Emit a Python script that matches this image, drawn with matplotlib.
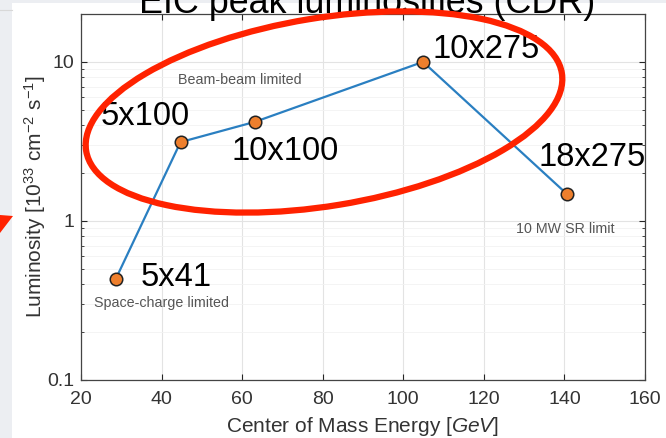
import matplotlib
matplotlib.use('Agg')
import matplotlib.pyplot as plt
from matplotlib.patches import Ellipse, Polygon, Rectangle
from matplotlib.ticker import FixedLocator, FuncFormatter, LogLocator, NullFormatter

plt.rcParams['font.family'] = ['Liberation Sans', 'DejaVu Sans']
plt.rcParams['mathtext.fontset'] = 'custom'
plt.rcParams['mathtext.rm'] = 'Liberation Sans'
plt.rcParams['mathtext.it'] = 'Liberation Sans:italic'

# beam configurations (e x p energies), CM energy and peak luminosity
configs = ['5x41', '5x100', '10x100', '10x275', '18x275']
cm_energy = [28.6, 44.7, 63.2, 104.9, 140.7]
luminosity = [0.43, 3.13, 4.2, 10.0, 1.47]

# label offsets in pixels (dx, dy) relative to each point
label_offsets = [(25, 2), (-80, 26), (-24, -30), (9, 12), (-29, 37)]

region_labels = ['Beam-beam limited', '10 MW SR limit', 'Space-charge limited']
region_pos = [(59.5, 7.7), (140.1, 0.89), (39.9, 0.307)]

W, H = 666, 438
fig = plt.figure(figsize=(W / 100, H / 100), dpi=100)
fig.patch.set_facecolor('#eceef2')

# slide background
bg = fig.add_axes([0, 0, 1, 1], zorder=-1)
bg.set_xlim(0, W)
bg.set_ylim(H, 0)
bg.axis('off')
bg.add_patch(Rectangle((12, 3), W - 12, H - 3, facecolor='white', edgecolor='none'))
bg.plot([0, 12], [10, 10], color='#d8d8d8', lw=0.8)

ax = fig.add_axes([81 / W, 1 - 380 / H, (645 - 81) / W, (380 - 14) / H])
ax.set_yscale('log')
ax.set_xlim(20, 160)
ax.set_ylim(0.1, 20)

ax.plot(cm_energy, luminosity, color='#2a7fc1', lw=1.6, zorder=3)
ax.plot(cm_energy, luminosity, 'o', ms=9, mfc='#ee7f2d', mec='#222222', mew=1.1, zorder=4)

for name, x, y, (dx, dy) in zip(configs, cm_energy, luminosity, label_offsets):
    ax.annotate(name, (x, y), xytext=(dx * 0.72, dy * 0.72), textcoords='offset points',
                fontsize=23.5, color='black', va='center', ha='left', zorder=5)

for txt, (x, y) in zip(region_labels, region_pos):
    ax.text(x, y, txt, fontsize=10.3, color='#555555', ha='center', va='center')

ax.xaxis.set_major_locator(FixedLocator(range(20, 161, 20)))
ax.yaxis.set_major_locator(FixedLocator([0.1, 1, 10]))
ax.yaxis.set_major_formatter(FuncFormatter(lambda v, p: '%g' % v))
ax.yaxis.set_minor_locator(LogLocator(base=10, subs=range(2, 10)))
ax.yaxis.set_minor_formatter(NullFormatter())

ax.grid(True, which='major', color='#e3e3e3', lw=0.8)
ax.grid(True, which='minor', axis='y', color='#f2f2f2', lw=0.6)
ax.set_axisbelow(True)

ax.tick_params(which='both', direction='in', top=True, right=True, colors='#262626',
               labelsize=14, labelcolor='#333333')
ax.tick_params(which='major', length=4, width=0.8, pad=5)
ax.tick_params(which='minor', length=2.5, width=0.6)
ax.tick_params(axis='x', which='major', pad=8)
ax.tick_params(axis='x', which='minor', bottom=False, top=False)
for s in ax.spines.values():
    s.set_color('#444444')
    s.set_linewidth(0.9)

ax.set_xlabel(r'Center of Mass Energy $\mathit{[GeV]}$', fontsize=15, color='#333333', labelpad=5)
ax.set_ylabel(r'Luminosity [10$^{33}$ cm$^{-2}$ s$^{-1}$]', fontsize=15, color='#333333', labelpad=-1)

fig.text(367 / W, 1 - 13 / H, 'EIC peak luminosities (CDR)', fontsize=25.8, ha='center',
         va='baseline', color='black')

# red ellipse annotation over the chart
ov = fig.add_axes([0, 0, 1, 1], zorder=10)
ov.set_xlim(0, W)
ov.set_ylim(H, 0)
ov.axis('off')
ov.patch.set_alpha(0)
ov.add_patch(Ellipse((324, 112), 482, 188, angle=-9.3, fill=False, edgecolor='#ff2200', lw=4.5))
ov.add_patch(Polygon([(0, 215), (13, 216), (0, 233)], closed=True, facecolor='#ff2200', edgecolor='none'))

fig.savefig('out.png', dpi=100)
